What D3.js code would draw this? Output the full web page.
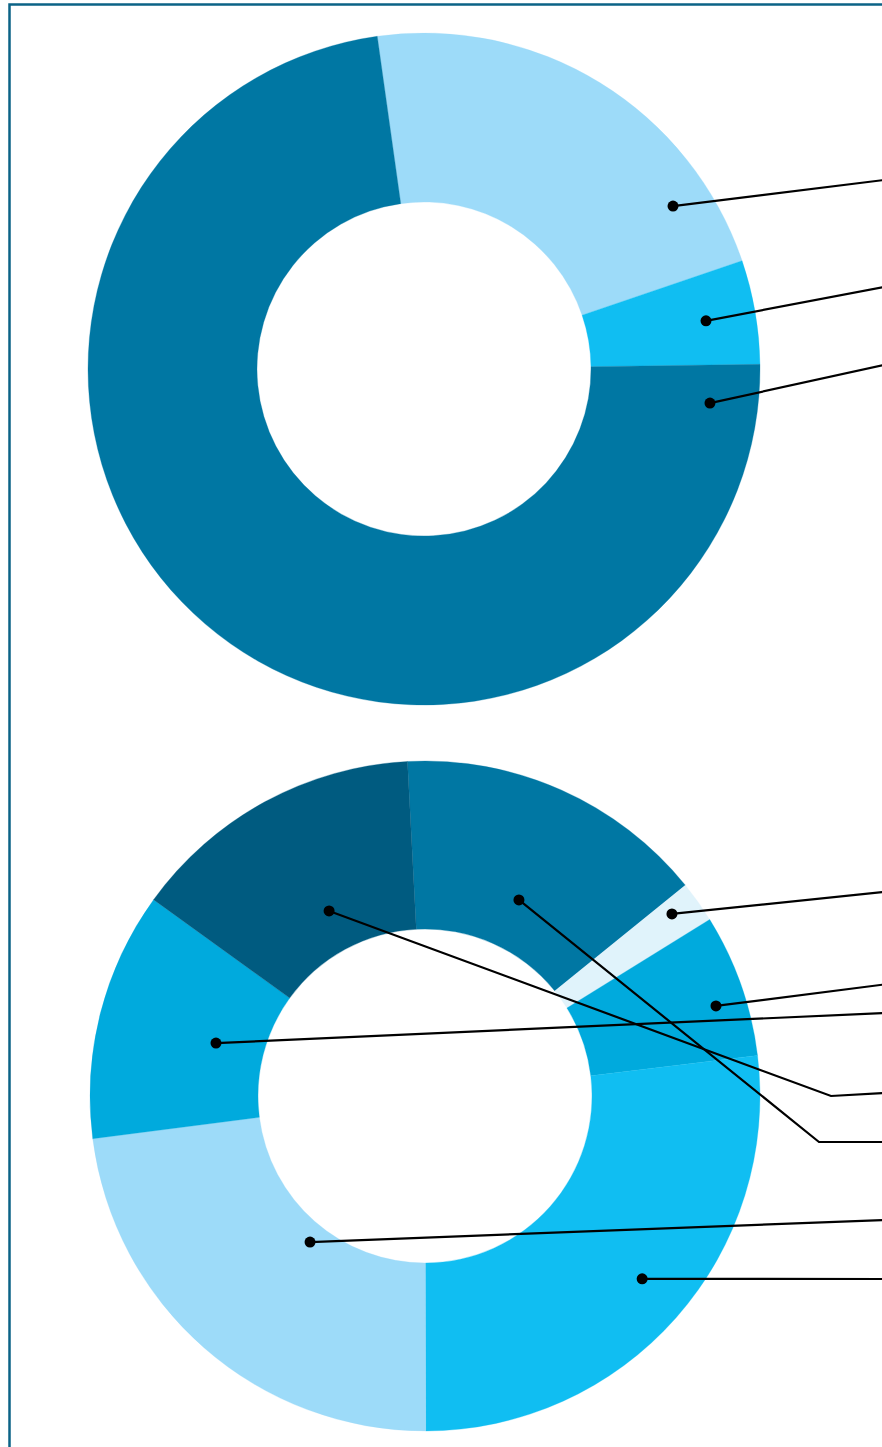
<!DOCTYPE html>
<html>
<head>
<meta charset="utf-8">
<script src="https://cdn.jsdelivr.net/npm/d3@7/dist/d3.min.js"></script>
<style>
  html, body { margin: 0; padding: 0; background: #fff; }
  svg { display: block; }
</style>
</head>
<body>
<svg id="chart" width="882" height="1447"></svg>
<script>
// ---------- DATA ----------
const topCategories = ["A", "B", "C"];
const topValues = [22, 5, 73];
const topColors = ["#9ddbf9", "#10bef2", "#0077a3"];

const bottomCategories = ["A", "B", "C", "D", "E", "F", "G"];
const bottomValues = [15, 2, 6.9, 26.9, 23.0, 12.0, 14.2];
const bottomColors = ["#0077a3", "#e0f3fb", "#00aadd", "#10bef2", "#9ddbf9", "#00aadd", "#005b80"];

// ---------- LAYOUT (annotation anchors, not data) ----------
const topChart = {
  cx: 424, cy: 369, inner: 167, outer: 336, startDeg: -8,
  leaders: [
    { slice: 0, ang: 56.8, r: 297.6, y: 180 },
    { slice: 1, ang: 80.3, r: 286.1, y: 287 },
    { slice: 2, ang: 96.8, r: 288.0, y: 365 }
  ]
};
const bottomChart = {
  cx: 425, cy: 1096, inner: 167, outer: 335, startDeg: -3,
  leaders: [
    { slice: 1, ang: 53.6, r: 306.8, y: 892 },
    { slice: 2, ang: 72.8, r: 304.6, y: 984.5 },
    { slice: 5, ang: 284.2, r: 215.6, y: 1013 },
    { slice: 6, ang: 332.6, r: 208.4, y: 1093, elbowX: 831, elbowY: 1096 },
    { slice: 0, ang: 25.6, r: 217.4, y: 1142, elbowX: 819, elbowY: 1142 },
    { slice: 4, ang: 218.2, r: 185.9, y: 1220 },
    { slice: 3, ang: 130.1, r: 283.9, y: 1279 }
  ]
};

const svg = d3.select("#chart");
const W = 882;

// frame (left and top border visible)
svg.append("rect")
  .attr("x", 9.5).attr("y", 4.5)
  .attr("width", 1000).attr("height", 1500)
  .attr("fill", "none")
  .attr("stroke", "#0b6386")
  .attr("stroke-width", 2.5);

function drawDonut(cfg, values, colors, cats) {
  const deg = Math.PI / 180;
  const pie = d3.pie().sort(null).value(d => d)
    .startAngle(cfg.startDeg * deg)
    .endAngle((cfg.startDeg + 360) * deg);
  const arc = d3.arc().innerRadius(cfg.inner).outerRadius(cfg.outer);
  const g = svg.append("g").attr("transform", `translate(${cfg.cx},${cfg.cy})`);
  g.selectAll("path.slice")
    .data(pie(values))
    .join("path")
    .attr("class", "slice")
    .attr("d", arc)
    .attr("fill", (d, i) => colors[i])
    .attr("stroke", (d, i) => colors[i])
    .attr("stroke-width", 0.3);

  const lg = svg.append("g");
  cfg.leaders.forEach(l => {
    const a = l.ang * deg;
    const px = cfg.cx + l.r * Math.sin(a);
    const py = cfg.cy - l.r * Math.cos(a);
    const pts = [[px, py]];
    if (l.elbowX !== undefined) pts.push([l.elbowX, l.elbowY]);
    pts.push([W + 2, l.y]);
    lg.append("path")
      .attr("d", d3.line()(pts))
      .attr("fill", "none")
      .attr("stroke", "#000")
      .attr("stroke-width", 2.2);
    lg.append("circle")
      .attr("cx", px).attr("cy", py).attr("r", 5.5)
      .attr("fill", "#000");
  });
}

drawDonut(topChart, topValues, topColors, topCategories);
drawDonut(bottomChart, bottomValues, bottomColors, bottomCategories);
</script>
</body>
</html>
